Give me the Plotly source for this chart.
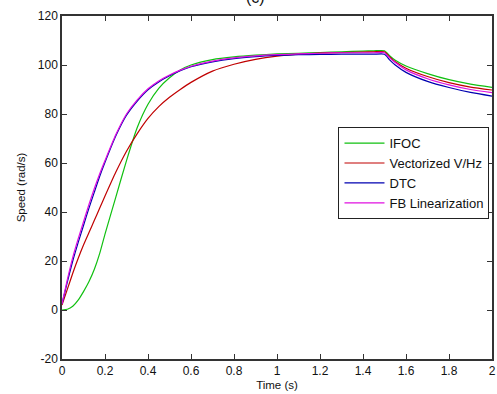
import plotly.graph_objects as go

time_s = [0, 0.025, 0.05, 0.075, 0.1, 0.125, 0.15, 0.175, 0.2, 0.25, 0.3, 0.35, 0.4, 0.45,
          0.5, 0.55, 0.6, 0.7, 0.8, 0.9, 1.0, 1.1, 1.2, 1.3, 1.4, 1.45, 1.5, 1.525, 1.55,
          1.6, 1.7, 1.8, 1.9, 2.0]

ifoc = [0, 0.3, 1.5, 4, 7.5, 11.5, 16.5, 23, 31, 46, 61, 74.5, 84, 90.5,
        94.8, 98, 100, 102.2, 103.3, 104, 104.5, 104.8, 105.1, 105.4, 105.7, 105.8, 105.8,
        103.7, 101.9, 99.6, 96.5, 94, 92.2, 90.9]

vhz = [2, 8.5, 15, 21, 26.5, 31.5, 36.5, 41.5, 46.5, 56.2, 64.8, 72, 78.2, 83,
       86.8, 90, 92.9, 97.5, 100.3, 102.3, 103.6, 104.4, 104.9, 105.1, 105.3, 105.4, 105.4,
       103.2, 101.3, 98.7, 95.3, 92.8, 91, 89.8]

dtc = [2.5, 11.5, 20, 27.5, 34.5, 41.5, 48, 54.5, 60.3, 71, 79.5, 85.3, 89.9, 93.1,
       95.6, 97.7, 99.3, 101.3, 102.6, 103.4, 103.9, 104.2, 104.3, 104.4, 104.4, 104.4, 104.4,
       102, 100, 97, 93.3, 90.8, 88.8, 87.3]

fbl = [2.5, 12.5, 21.5, 29, 36, 43, 49.5, 55.5, 61, 71.5, 80, 85.8, 90.3, 93.5,
       95.9, 97.9, 99.5, 101.6, 102.9, 103.7, 104.2, 104.5, 104.8, 105, 105, 105, 105,
       102.8, 101, 98, 94.4, 91.9, 90, 88.7]

series_names = ["IFOC", "Vectorized V/Hz", "DTC", "FB Linearization"]
series_values = [ifoc, vhz, dtc, fbl]
series_colors = ["#10c010", "#c00000", "#0000b0", "#e010e0"]

x_ticks = [0, 0.2, 0.4, 0.6, 0.8, 1, 1.2, 1.4, 1.6, 1.8, 2]
x_tick_labels = ["0", "0.2", "0.4", "0.6", "0.8", "1", "1.2", "1.4", "1.6", "1.8", "2"]
y_ticks = [-20, 0, 20, 40, 60, 80, 100, 120]
y_tick_labels = ["-20", "0", "20", "40", "60", "80", "100", "120"]

fig = go.Figure()
for name, vals, col in zip(series_names, series_values, series_colors):
    fig.add_trace(go.Scatter(x=time_s, y=vals, mode="lines", name=name,
                             line=dict(color=col, width=1.2, shape="spline", smoothing=0.6)))

axis_common = dict(showline=True, linecolor="#333333", linewidth=1.5, mirror="ticks",
                   ticks="inside", ticklen=5, tickcolor="#333333", tickwidth=1,
                   showgrid=False, zeroline=False, ticklabeloverflow="allow",
                   tickfont=dict(family="Liberation Sans, Arial", size=12, color="#111111"))

fig.update_layout(
    width=497, height=394,
    margin=dict(l=62, r=1, t=16, b=35),
    paper_bgcolor="white", plot_bgcolor="white",
    font=dict(family="Liberation Sans, Arial", size=12, color="#111111"),
    xaxis=dict(range=[0, 2], tickvals=x_ticks, ticktext=x_tick_labels,
               title=dict(text="Time (s)", standoff=4, font=dict(size=11.5)),
               **axis_common),
    yaxis=dict(range=[-20, 120], tickvals=y_ticks, ticktext=y_tick_labels,
               title=dict(text="Speed (rad/s)", standoff=10, font=dict(size=11.5)),
               **axis_common),
    legend=dict(x=0.643, y=0.676, xanchor="left", yanchor="top",
                bgcolor="white", bordercolor="#222222", borderwidth=1,
                itemwidth=40,
                font=dict(family="Liberation Sans, Arial", size=13, color="#111111"),
                tracegroupgap=0),
    showlegend=True,
    annotations=[dict(text="(c)", x=0.45, y=1, xref="paper", yref="paper",
                      xanchor="center", yanchor="bottom", yshift=8,
                      showarrow=False, font=dict(size=16, color="#111111"))],
)

fig.write_html("out.html", config={"displayModeBar": False},
               post_script="document.body.style.margin='0px';")
